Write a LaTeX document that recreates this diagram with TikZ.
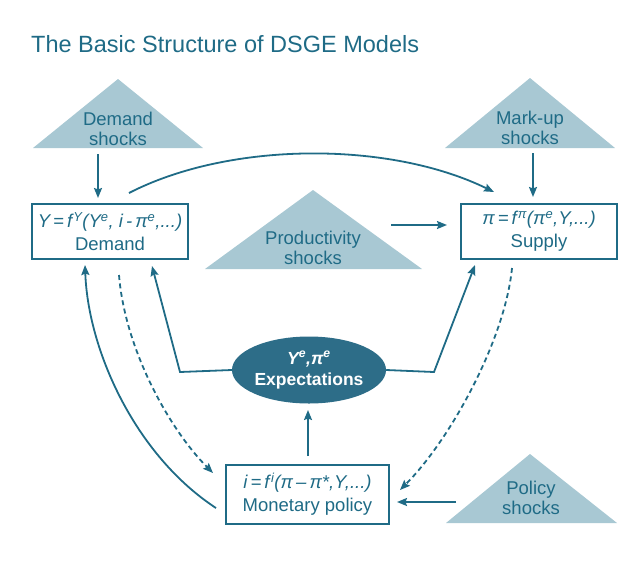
\documentclass[tikz,border=0pt]{standalone}
\usepackage{fontspec}
\setmainfont{Liberation Sans}
\usetikzlibrary{arrows.meta,shapes.geometric}
\definecolor{teal1}{HTML}{1F6B86}
\definecolor{trifill}{HTML}{A8C8D3}
\definecolor{ellfill}{HTML}{2D6D88}
\begin{document}
\begin{tikzpicture}[x=1pt,y=-1pt,
  arr/.style={draw=teal1, line width=1.8pt, -{Stealth[length=10pt,width=8pt,inset=1.5pt]}},
  dsh/.style={arr, dash pattern=on 5pt off 3.5pt},
  box/.style={draw=teal1, line width=1.2pt, fill=white, text=teal1, align=center,
    font=\fontsize{18.5}{23}\selectfont, inner sep=0pt},
  tlabel/.style={text=teal1, align=center, font=\fontsize{18.5}{19.5}\selectfont, inner sep=0pt},
  trishape/.style={fill=trifill, draw=none}
]
\useasboundingbox (0,0) rectangle (640,566);

% title
\node[anchor=west, text=teal1, font=\fontsize{23.5}{26}\selectfont, inner sep=0pt] (title) at (31,44) {The Basic Structure of DSGE Models};

% triangles
\fill[trishape] (118,79) -- (203,148) -- (33,148) -- cycle;
\node[tlabel] (dshock) at (118,129) {Demand\\shocks};
\fill[trishape] (530,78) -- (615,148) -- (445,148) -- cycle;
\node[tlabel] (mshock) at (530,128) {Mark-up\\shocks};
\fill[trishape] (313,190) -- (422,269) -- (205,269) -- cycle;
\node[tlabel] (pshock) at (313,248) {Productivity\\shocks};
\fill[trishape] (530,454) -- (617,523) -- (446,523) -- cycle;
\node[tlabel] (polshock) at (531,498) {Policy\\shocks};

% boxes
\node[box, minimum width=156pt, minimum height=55pt] (demand) at (110,231.5)
  {\itshape Y\,=\,f\kern1pt\textsuperscript{Y}(Y\textsuperscript{e}, i\,-\,π\textsuperscript{e},...)\\Demand};
\node[box, minimum width=156pt, minimum height=55pt] (supply) at (539,231.5)
  {\itshape π\,=\,f\kern1pt\textsuperscript{π}(π\textsuperscript{e},Y,...)\\Supply};
\node[box, minimum width=163pt, minimum height=59pt] (policy) at (307.5,494.5)
  {\itshape i\,=\,f\kern1.5pt\textsuperscript{i}(π\,–\,π*,Y,...)\\Monetary policy};

% expectations
\node[ellipse, fill=ellfill, minimum width=144pt, minimum height=67pt, inner sep=0pt,
  text=white, align=center, font=\bfseries\fontsize{17.5}{21}\selectfont] (expect) at (309,370)
  {\itshape Y\textsuperscript{e},π\textsuperscript{e}\\Expectations};

% coordinates
\coordinate (a1s) at (98,154);  \coordinate (a1e) at (98,198);
\coordinate (a2s) at (533,153); \coordinate (a2e) at (533,197);
\coordinate (cs) at (129,193);  \coordinate (ce) at (494,192);
\coordinate (ps) at (391,225);  \coordinate (pe) at (447,225);
\coordinate (lk) at (180,372);  \coordinate (le) at (152,266);
\coordinate (rk) at (434,372);  \coordinate (re) at (475,265);
\coordinate (us) at (308,456);  \coordinate (ue) at (308,410);
\coordinate (hs) at (456,502);  \coordinate (he) at (397,502);
\coordinate (ss) at (216,508);  \coordinate (se) at (85,265);
\coordinate (d1s) at (119,275); \coordinate (d1e) at (213,473);
\coordinate (d2s) at (512,268); \coordinate (d2e) at (400,490);

\draw[arr] (a1s) -- (a1e);
\draw[arr] (a2s) -- (a2e);
\draw[arr] (cs) .. controls (230,141) and (390,141) .. (ce);
\draw[arr] (ps) -- (pe);
\draw[arr] (expect.west) -- (lk) -- (le);
\draw[arr] (expect.east) -- (rk) -- (re);
\draw[arr] (us) -- (ue);
\draw[arr] (hs) -- (he);
\draw[arr] (ss) .. controls (135,455) and (88,350) .. (se);
\draw[dsh] (d1s) .. controls (125,350) and (170,430) .. (d1e);
\draw[dsh] (d2s) .. controls (505,340) and (450,440) .. (d2e);
\end{tikzpicture}
\end{document}
